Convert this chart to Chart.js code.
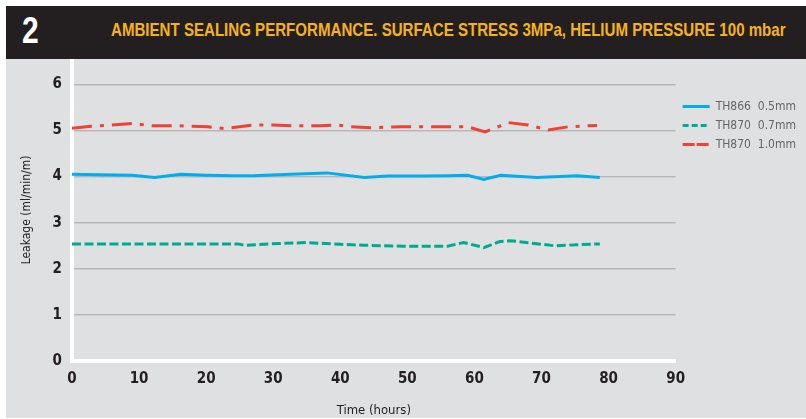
<!DOCTYPE html>
<html>
<head>
<meta charset="utf-8">
<script src="https://cdn.jsdelivr.net/npm/chart.js@4.4.1/dist/chart.umd.min.js"></script>
<style>
  html, body { margin: 0; padding: 0; background: #fff; }
  body { width: 806px; height: 419px; position: relative; overflow: hidden; }
  #header {
    position: absolute; left: 6px; top: 6px; width: 800px; height: 53px;
    background: #231f20;
  }
  #num, #title {
    position: absolute; white-space: nowrap; transform-origin: 0 0;
    font-family: "Liberation Sans", Arial, sans-serif; font-weight: bold;
  }
  #num { left: 16px; top: 6px; font-size: 37px; line-height: 37px; color: #fff; }
  #title { left: 105px; top: 14px; font-size: 18.5px; line-height: 20px; color: #f6b318; }
  #panel {
    position: absolute; left: 6px; top: 59px; width: 800px; height: 359px;
    background: #dfe0e2;
  }
</style>
</head>
<body>
<div id="header"><div id="num">2</div><div id="title">AMBIENT SEALING PERFORMANCE. SURFACE STRESS 3MPa, HELIUM PRESSURE 100 mbar</div></div>
<div id="panel"><canvas id="chart" width="800" height="359"></canvas></div>
<script>
const FONT = "'DejaVu Sans Condensed', 'Liberation Sans', sans-serif";

const seriesLabels = ["TH866  0.5mm", "TH870  0.7mm", "TH870  1.0mm"];

const th866Hours = [0, 4, 9, 12.3, 16.2, 20, 24, 27, 32.6, 38, 43.6, 47, 52, 56, 59, 61.4, 63.9, 69.3, 75.3, 78.7];
const th866Leak = [4.05, 4.04, 4.03, 3.98, 4.05, 4.03, 4.02, 4.02, 4.05, 4.08, 3.98, 4.01, 4.01, 4.02, 4.03, 3.94, 4.03, 3.98, 4.02, 3.98];

const th870aHours = [0, 10, 20, 24.7, 25.8, 29.6, 35, 40, 43.5, 49.5, 56, 58.4, 61.4, 63.8, 65.3, 71.9, 78.7];
const th870aLeak = [2.54, 2.54, 2.54, 2.54, 2.51, 2.54, 2.57, 2.53, 2.51, 2.49, 2.49, 2.57, 2.46, 2.59, 2.61, 2.50, 2.54];

const th870bHours = [0, 2.8, 5, 9, 12, 16, 20.3, 22.7, 27, 30, 33, 37, 39.5, 41.5, 44.5, 49, 52, 56, 59, 61.6, 65.1, 68, 71, 74, 78.3];
const th870bLeak = [5.05, 5.09, 5.11, 5.15, 5.10, 5.10, 5.08, 5.04, 5.12, 5.12, 5.10, 5.10, 5.12, 5.08, 5.06, 5.08, 5.08, 5.08, 5.08, 4.97, 5.17, 5.12, 5.01, 5.08, 5.11];

const xTicks = [0, 10, 20, 30, 40, 50, 60, 70, 80, 90];
const yTicks = [0, 1, 2, 3, 4, 5, 6];

const colors = ["#00aeef", "#00a98f", "#ef4136"];
const lineDashes = [[], [9, 3.5], [20, 8, 4, 8]];
const legendDashes = [[], [6, 3], [12, 2]];

// squeeze header text to the condensed width of the original
function fitWidth(id, width) {
  const el = document.getElementById(id);
  el.style.transform = `scaleX(${width / el.offsetWidth})`;
}
fitWidth("num", 17);
fitWidth("title", 675);

function toPoints(xs, ys) {
  return xs.map((x, i) => ({ x, y: ys[i] }));
}

const datasets = [
  toPoints(th866Hours, th866Leak),
  toPoints(th870aHours, th870aLeak),
  toPoints(th870bHours, th870bLeak)
].map((data, i) => ({
  label: seriesLabels[i],
  data,
  borderColor: colors[i],
  backgroundColor: colors[i],
  borderWidth: 3,
  borderDash: lineDashes[i],
  pointRadius: 0,
  tension: 0,
  fill: false
}));

new Chart(document.getElementById("chart"), {
  type: "line",
  data: { datasets },
  options: {
    responsive: false,
    animation: false,
    layout: { padding: { top: 0, right: 0, bottom: 0, left: 14 } },
    plugins: {
      tooltip: { enabled: false },
      legend: {
        position: "right",
        align: "start",
        title: { display: true, text: "", padding: 10 },
        labels: {
          usePointStyle: true,
          pointStyle: "line",
          pointStyleWidth: 27,
          boxWidth: 27,
          padding: 7,
          color: "#231f20",
          font: { family: FONT, size: 12 },
          generateLabels(chart) {
            return chart.data.datasets.map((ds, i) => ({
              text: ds.label,
              fillStyle: ds.borderColor,
              strokeStyle: ds.borderColor,
              lineWidth: 3,
              lineDash: legendDashes[i],
              pointStyle: "line",
              datasetIndex: i,
              hidden: false
            }));
          }
        }
      }
    },
    scales: {
      x: {
        type: "linear",
        min: 0,
        max: 90,
        afterBuildTicks: scale => { scale.ticks = xTicks.map(value => ({ value })); },
        afterFit: scale => { scale.height = 57; },
        grid: { display: false, drawTicks: false },
        border: { display: true, color: "#ffffff", width: 4 },
        ticks: {
          padding: 9,
          color: "#231f20",
          font: { family: FONT, size: 15, weight: "bold" }
        },
        title: {
          display: true,
          text: "Time (hours)",
          color: "#231f20",
          padding: { top: 8, bottom: 0 },
          font: { family: FONT, size: 13 }
        }
      },
      y: {
        min: 0,
        max: 6.55,
        afterBuildTicks: scale => { scale.ticks = yTicks.map(value => ({ value })); },
        afterFit: scale => {
          scale.width = 52;
          scale.paddingTop = 0;
          scale.paddingBottom = 0;
        },
        grid: { color: "#b6b7b9", lineWidth: 1.5, drawTicks: false },
        border: { display: true, color: "#ffffff", width: 4 },
        ticks: {
          padding: 10,
          color: "#231f20",
          font: { family: FONT, size: 15, weight: "bold" }
        },
        title: {
          display: true,
          text: "Leakage (ml/min/m)",
          color: "#231f20",
          padding: { top: 0, bottom: 0 },
          font: { family: FONT, size: 12 }
        }
      }
    }
  }
});
</script>
</body>
</html>
